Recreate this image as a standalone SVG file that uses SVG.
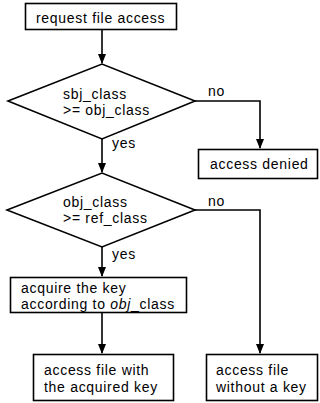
<svg xmlns="http://www.w3.org/2000/svg" width="320" height="403" viewBox="0 0 320 403">
<defs>
<marker id="ah" markerWidth="10" markerHeight="10" refX="9" refY="5" orient="auto" markerUnits="userSpaceOnUse">
<path d="M0,1 L10,5 L0,9 Z" fill="#000"/>
</marker>
<style>
.n{fill:#fff;stroke:#000;stroke-width:1.6}
.t{font-family:"Liberation Sans",Arial,sans-serif;font-size:14px;fill:#000;letter-spacing:0.7px}
.c{fill:none;stroke:#000;stroke-width:1.6}
</style>
</defs>
<rect width="320" height="403" fill="#fff"/>
<g id="connectors">
<path class="c" d="M102,30 V63" marker-end="url(#ah)"/>
<path class="c" d="M102,139 V172" marker-end="url(#ah)"/>
<path class="c" d="M195,101 H260 V148" marker-end="url(#ah)"/>
<path class="c" d="M102,247 V276" marker-end="url(#ah)"/>
<path class="c" d="M195,210 H260 V353" marker-end="url(#ah)"/>
<path class="c" d="M102,312 V353" marker-end="url(#ah)"/>
<text class="t" x="208" y="96">no</text>
<text class="t" x="112" y="148">yes</text>
<text class="t" x="208" y="206">no</text>
<text class="t" x="112" y="259">yes</text>
</g>
<g id="request">
<rect class="n" x="25.5" y="3.5" width="151" height="26"/>
<text class="t" x="36" y="23">request file access</text>
</g>
<g id="check1">
<polygon class="n" points="8,101 102,64 195,101 102,139"/>
<text class="t" x="63" y="99">sbj_class</text>
<text class="t" x="63" y="115">&gt;= obj_class</text>
</g>
<g id="denied">
<rect class="n" x="198.5" y="149.5" width="119" height="29"/>
<text class="t" x="210" y="169">access denied</text>
</g>
<g id="check2">
<polygon class="n" points="7,210 102,173 195,210 102,247"/>
<text class="t" x="63" y="207">obj_class</text>
<text class="t" x="63" y="223">&gt;= ref_class</text>
</g>
<g id="acquire">
<rect class="n" x="10.5" y="277.5" width="176" height="35"/>
<text class="t" x="21" y="293">acquire the key</text>
<text class="t" x="21" y="309">according to <tspan font-style="italic">obj</tspan>_class</text>
</g>
<g id="withkey">
<rect class="n" x="33.5" y="354.5" width="140" height="46"/>
<text class="t" x="44" y="375">access file with</text>
<text class="t" x="44" y="392">the acquired key</text>
</g>
<g id="nokey">
<rect class="n" x="206.5" y="354.5" width="111" height="46"/>
<text class="t" x="216" y="375">access file</text>
<text class="t" x="216" y="392">without a key</text>
</g>
</svg>
